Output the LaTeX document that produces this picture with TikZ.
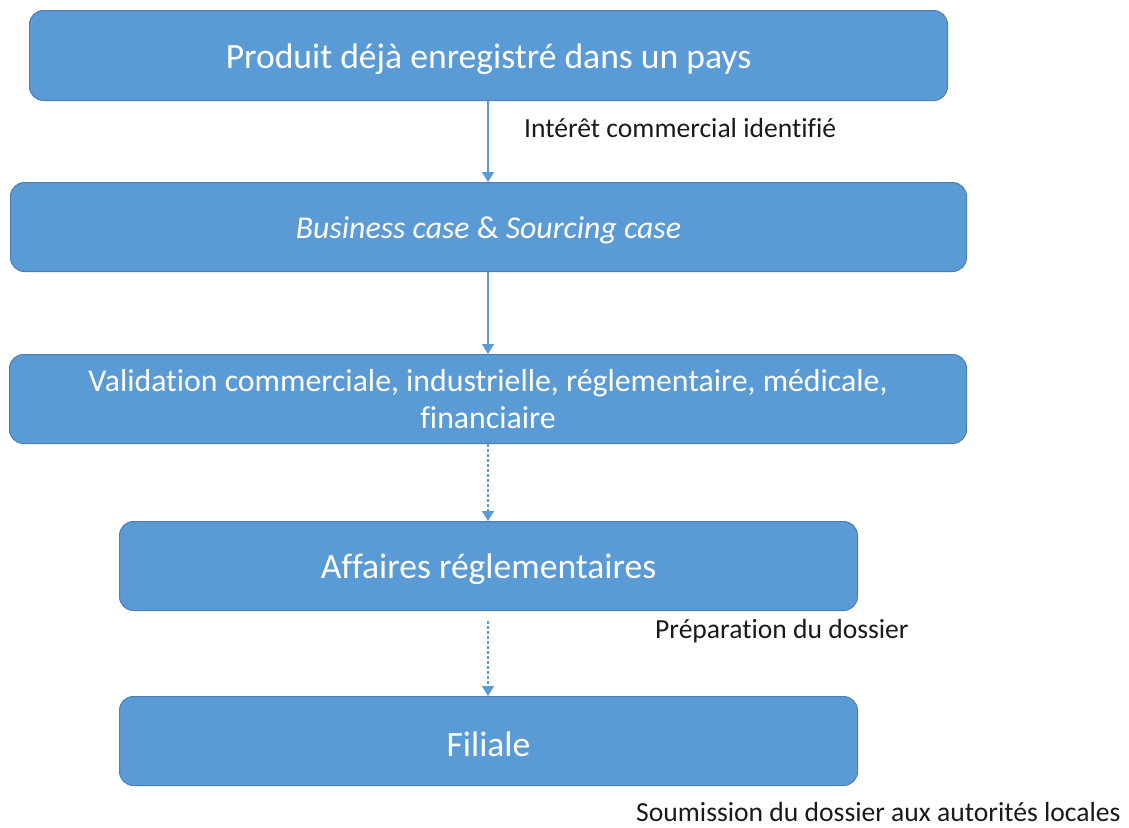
\documentclass[tikz,border=0pt]{standalone}
\usepackage{fontspec}
\setmainfont{Carlito}[Ligatures={NoCommon}]
\usetikzlibrary{arrows.meta}
\definecolor{boxfill}{HTML}{5B9BD5}
\definecolor{boxline}{HTML}{4A7FB5}
\definecolor{arrowc}{HTML}{5B9BD5}
\definecolor{labelc}{HTML}{1A1A1A}
\newcommand{\dn}[1]{\raisebox{-3.5pt}[\height][\depth]{#1}}
\tikzset{
  stepbox/.style={draw=boxline, line width=1pt, fill=boxfill, rounded corners=14pt,
    text=white, inner sep=0pt, anchor=north west, align=center},
  bigtext/.style={font=\fontsize{35.6}{42}\selectfont},
  midtext/.style={font=\fontsize{31.8}{37}\selectfont},
  flow/.style={draw=arrowc, line width=1.3pt, -{Triangle[width=12pt,length=10pt]}},
  flowdash/.style={flow, dash pattern=on 3pt off 2pt},
  note/.style={font=\fontsize{27.6}{32}\selectfont, text=labelc, anchor=west, inner sep=0pt}
}
\begin{document}
\begin{tikzpicture}[x=1pt,y=-1pt]
\useasboundingbox (0,0) rectangle (1129,827);
\node[stepbox, bigtext, minimum width=918pt, minimum height=90pt] (b1) at (29,10) {\dn{Produit déjà enregistré dans un pays}};
\node[stepbox, midtext, minimum width=956pt, minimum height=89pt] (b2) at (10,182) {\dn{\textit{Business case} \& \textit{Sourcing case}}};
\node[stepbox, midtext, minimum width=957pt, minimum height=89pt] (b3) at (9,354) {Validation commerciale, industrielle, réglementaire, médicale,\\financiaire};
\node[stepbox, bigtext, minimum width=738pt, minimum height=89pt] (b4) at (119,521) {\dn{Affaires réglementaires}};
\node[stepbox, bigtext, minimum width=738pt, minimum height=89pt] (b5) at (119,696) {\dn{Filiale}};

\node[note] (l1) at (524,128) {Intérêt commercial identifié};
\node[note] (l2) at (655,631) {Préparation du dossier};
\node[note] (l3) at (636,812) {Soumission du dossier aux autorités locales};

\draw[flow] (b1.south -| 488,0) -- (b2.north -| 488,0);
\draw[flow] (b2.south -| 488,0) -- (b3.north -| 488,0);
\draw[flowdash] (b3.south -| 488,0) -- (b4.north -| 488,0);
\draw[flowdash, shorten <=10pt] (b4.south -| 488,0) -- (b5.north -| 488,0);
\end{tikzpicture}
\end{document}
